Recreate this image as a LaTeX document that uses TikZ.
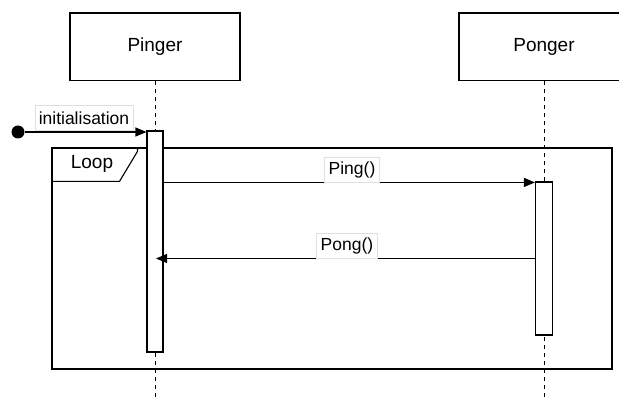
\documentclass[tikz,border=0pt]{standalone}
\usepackage{fontspec}
\setmainfont{Liberation Sans}
\usetikzlibrary{arrows.meta, positioning, calc}

\begin{document}
\begin{tikzpicture}[x=1pt, y=-1pt,
    font=\fontsize{19}{21}\selectfont,
    >={Triangle[length=11pt, width=9pt]},
    line width=1.1pt,
    actor/.style={
        draw,
        minimum width=170pt,
        minimum height=67.5pt,
        inner sep=0pt
    },
    activation/.style={
        draw,
        fill=white,
        minimum width=16pt,
        inner sep=0pt
    },
    lifeline/.style={
        dash pattern=on 4pt off 4pt,
        line width=1pt
    },
    msg/.style={
        ->
    },
    msglabel/.style={
        fill=white,
        draw=gray!25,
        line width=0.5pt,
        inner xsep=4pt,
        inner ysep=0pt,
        minimum height=25pt,
        font=\fontsize{17.5}{19}\selectfont
    },
    frame/.style={
        draw,
        inner sep=0pt
    }
]

\clip (0,0) rectangle (619,398);

% =====================
% Participants
% =====================

\node[actor] (pinger) at (155,46.75) {Pinger};
\node[actor] (ponger) at (544,46.75) {Ponger};

\draw[lifeline] (pinger.south) -- (pinger.south |- 0,398);
\draw[lifeline] (ponger.south) -- (ponger.south |- 0,398);

% =====================
% Loop fragment
% =====================

\node[frame, minimum width=560pt, minimum height=221pt] (loop) at (332,258.5) {};
\draw ($(loop.north west)+(0,34)$) -- ++(68,0) -- ++(18,-30) -- ++(0,-4);
\node (looplabel) at (92,164) {Loop};

% =====================
% Activations
% =====================

\node[activation, minimum height=221pt] (pingact) at (155,241.5) {};
\node[activation, minimum width=17pt, minimum height=153pt] (pongact) at (544,258.5) {};

% =====================
% Messages
% =====================

\node[circle, fill, minimum size=13pt, inner sep=0pt] (start) at (18,132) {};
\draw[msg] (start) -- (start -| pingact.west);
\node[msglabel] (initlabel) at (84,118) {initialisation};

\draw[msg] ([yshift=-1pt]pingact.east |- pongact.north west) -- ([yshift=-1pt]pongact.north west);
\node[msglabel] (pinglabel) at (352,169.5) {Ping()};

\draw[msg] (pongact.west) -- ([xshift=1pt]pongact.west -| pingact.center);
\node[msglabel] (ponglabel) at (347,245.5) {Pong()};

\end{tikzpicture}
\end{document}
